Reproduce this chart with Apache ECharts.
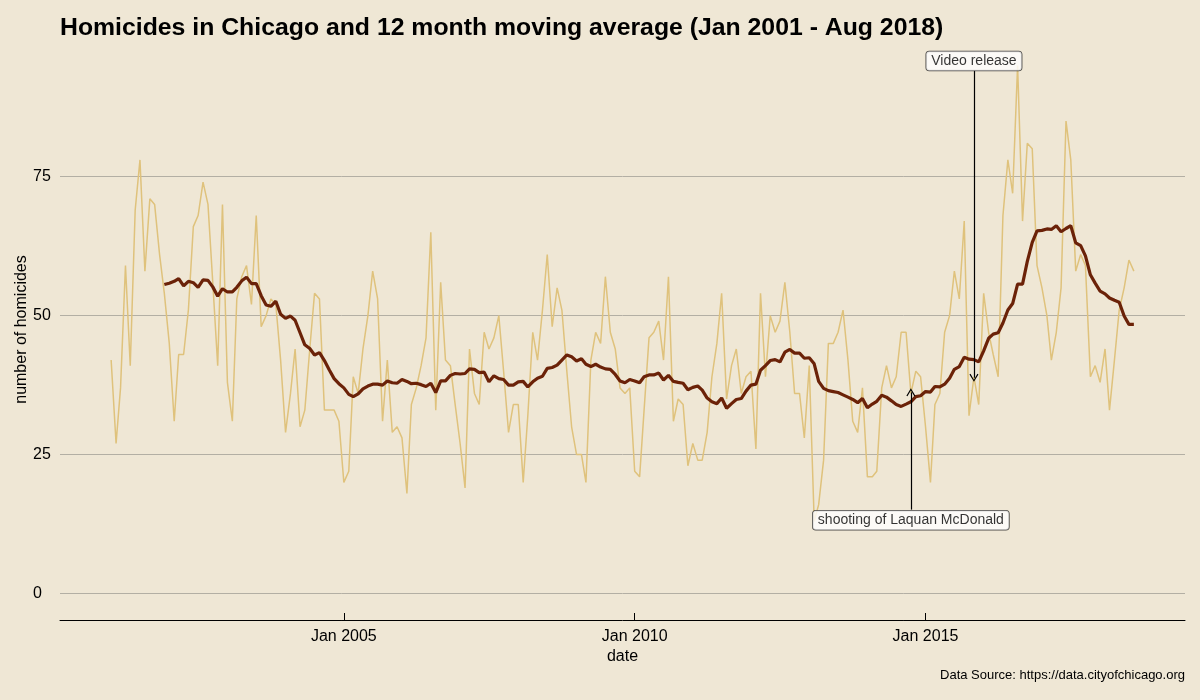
<!DOCTYPE html>
<html>
<head>
<meta charset="utf-8">
<script src="https://cdn.jsdelivr.net/npm/echarts@6/dist/echarts.min.js"></script>
<style>
  html, body { margin: 0; padding: 0; background: #efe7d5; }
  #chart { width: 1200px; height: 700px; }
</style>
</head>
<body>
<div id="chart"></div>
<script>
// ---- Data (monthly homicides in Chicago, Jan 2001 - Aug 2018) ----
const startYear = 2001;
const startMonth = 0; // January
const homicides = [
  42, 27, 37, 59, 41, 69, 78, 58, 71, 70, 61, 54,
  45, 31, 43, 43, 51, 66, 68, 74, 70, 56, 41, 70,
  38, 31, 53, 57, 59, 52, 68, 48, 50, 53, 52, 42,
  29, 36, 44, 30, 33, 44, 54, 53, 33, 33, 33, 31,
  20, 22, 39, 36, 44, 50, 58, 53, 31, 42, 29, 30,
  28, 18, 34, 37, 41, 46, 65, 33, 56, 42, 41, 34,
  27, 19, 44, 36, 34, 47, 44, 46, 50, 40, 29, 34,
  34, 20, 32, 47, 42, 51, 61, 48, 55, 51, 40, 30,
  25, 25, 20, 42, 47, 45, 57, 47, 44, 37, 36, 37,
  22, 21, 33, 46, 47, 49, 42, 57, 31, 35, 34, 23,
  27, 24, 24, 29, 39, 45, 54, 35, 41, 44, 36, 39,
  40, 26, 54, 39, 50, 47, 49, 56, 47, 36, 36, 28,
  41, 13, 16, 24, 45, 45, 47, 51, 42, 31, 29, 37,
  21, 21, 22, 37, 41, 37, 39, 47, 47, 36, 40, 39,
  30, 20, 34, 36, 47, 50, 58, 53, 67, 32, 39, 34,
  54, 47, 43, 39, 68, 78, 72, 95, 67, 81, 80, 59,
  55, 50, 42, 47, 55, 85, 78, 58, 61, 59, 39, 41,
  38, 44, 33, 42, 51, 55, 60, 58
];
const windowMonths = 12;
const xTickYears = [2005, 2010, 2015];
const yTicks = [0, 25, 50, 75];
const annotationLabels = ['Video release', 'shooting of Laquan McDonald'];
const annotationDates = ['2015-11-01', '2014-10-01'];
const annotationLabelY = [95.8, 13.2];
const annotationArrowFrom = [94.1, 15.1];
const annotationArrowTo = [38.8, 36.2];

// ---- Derived tables ----
const dates = homicides.map((_, i) => Date.UTC(startYear + Math.floor((startMonth + i) / 12), (startMonth + i) % 12, 1));
const rawData = homicides.map((v, i) => [dates[i], v]);
const maData = [];
for (let i = windowMonths - 1; i < homicides.length; i++) {
  let s = 0;
  for (let k = i - windowMonths + 1; k <= i; k++) s += homicides[k];
  maData.push([dates[i], s / windowMonths]);
}
const tStart = dates[0], tEnd = dates[dates.length - 1];
const tPad = 0.05 * (tEnd - tStart);
const yMaxVal = Math.max(...homicides);
const yPad = 0.05 * yMaxVal;
const xTicks = xTickYears.map(y => Date.UTC(y, 0, 1));
const parseDate = s => { const p = s.split('-').map(Number); return Date.UTC(p[0], p[1] - 1, p[2]); };
const annDates = annotationDates.map(parseDate);

const FONT = 'Liberation Sans, Arial, Helvetica, sans-serif';
const chevron = 'path://M5,0 L10,9 L8.8,9.8 L5,2.6 L1.2,9.8 L0,9 Z';

const chart = echarts.init(document.getElementById('chart'), null, { renderer: 'canvas' });
chart.setOption({
  backgroundColor: '#efe7d5',
  animation: false,
  textStyle: { fontFamily: FONT },
  title: {
    text: 'Homicides in Chicago and 12 month moving average (Jan 2001 - Aug 2018)',
    left: 60, top: 16, padding: 0,
    textStyle: { fontFamily: FONT, fontSize: 24.8, fontWeight: 'bold', color: '#000' }
  },
  grid: { left: 60, right: 15, top: 39, bottom: 80, outerBoundsMode: 'none', containLabel: false },
  xAxis: {
    type: 'value',
    min: tStart - tPad,
    max: tEnd + tPad,
    name: 'date',
    nameLocation: 'middle',
    nameGap: 29,
    nameMoveOverlap: false,
    nameTextStyle: { fontFamily: FONT, fontSize: 16, color: '#000' },
    axisLine: { show: true, onZero: false, lineStyle: { color: '#000', width: 1 } },
    axisTick: { show: true, inside: true, length: 7, customValues: xTicks, lineStyle: { color: '#000', width: 1 } },
    axisLabel: {
      customValues: xTicks, margin: 9, fontFamily: FONT, fontSize: 16, color: '#000',
      formatter: v => 'Jan ' + new Date(v).getUTCFullYear()
    },
    splitLine: { show: false }
  },
  yAxis: {
    type: 'value',
    min: -yPad,
    max: yMaxVal + yPad,
    name: 'number of homicides',
    nameLocation: 'middle',
    nameRotate: 90,
    nameGap: 30,
    nameMoveOverlap: false,
    nameTextStyle: { fontFamily: FONT, fontSize: 16, color: '#000' },
    axisLine: { show: false },
    axisTick: { show: false, customValues: yTicks },
    axisLabel: { customValues: yTicks, margin: 27, align: 'left', fontFamily: FONT, fontSize: 16, color: '#000' },
    splitLine: { show: true, lineStyle: { color: '#b3afa4', width: 1 } }
  },
  series: [
    {
      name: 'monthly',
      type: 'line',
      data: rawData,
      showSymbol: false,
      lineStyle: { color: '#dfc27c', width: 1.5 },
      z: 2
    },
    {
      name: 'moving average',
      type: 'line',
      data: maData,
      showSymbol: false,
      lineStyle: { color: '#6b2208', width: 3.2 },
      z: 3
    },
    {
      name: 'annotations',
      type: 'scatter',
      data: annDates.map((d, i) => [d, annotationLabelY[i], annotationLabels[i]]),
      symbolSize: 0,
      z: 10,
      label: {
        show: true, position: 'inside',
        formatter: p => p.data[2],
        fontFamily: FONT, fontSize: 14, color: '#000',
        backgroundColor: '#fff', borderColor: '#222', borderWidth: 0.8, borderRadius: 3,
        padding: [3, 5, 2, 5]
      },
      markLine: {
        silent: true,
        symbol: ['none', chevron],
        symbolSize: [9, 8],
        label: { show: false },
        lineStyle: { color: '#000', width: 1.2, type: 'solid' },
        data: annDates.map((d, i) => [{ coord: [d, annotationArrowFrom[i]] }, { coord: [d, annotationArrowTo[i]] }])
      }
    }
  ],
  graphic: [
    {
      type: 'text', right: 15, top: 669,
      style: { text: 'Data Source: https://data.cityofchicago.org', font: '13px ' + FONT, fill: '#000' }
    }
  ]
});
</script>
</body>
</html>
